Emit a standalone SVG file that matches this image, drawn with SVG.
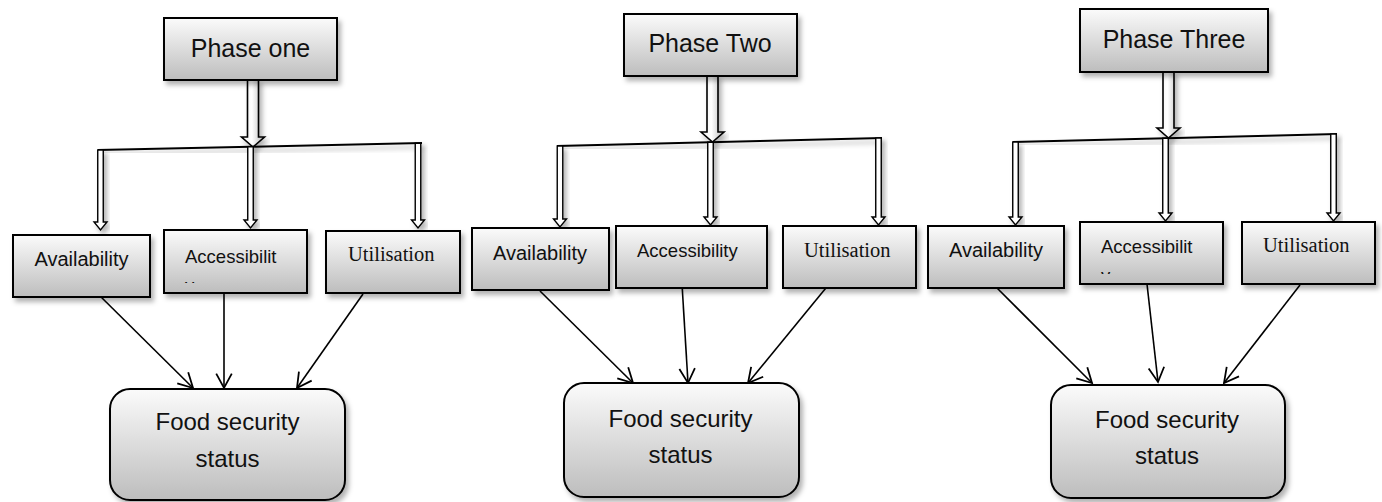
<svg xmlns="http://www.w3.org/2000/svg" width="1382" height="502" viewBox="0 0 1382 502">
  <style>
    .box { stroke: #000; stroke-width: 2; fill: url(#boxGrad); filter: url(#shadow); }
    .fat { stroke: #000; stroke-width: 1.6; fill: url(#fatGrad); filter: url(#shadow); }
    .thin { stroke: #000; stroke-width: 1.4; fill: #fff; filter: url(#shadow); }
    .bar { stroke: #000; stroke-width: 2; fill: none; filter: url(#shadow); }
    .link { stroke: #000; stroke-width: 1.6; fill: none; marker-end: url(#open); }
    .sans { font-family: "Liberation Sans", Arial, sans-serif; fill: #111; }
    .serif { font-family: "Liberation Serif", "Times New Roman", serif; fill: #111; }
    .phase { font-size: 25px; text-anchor: middle; }
    .food { font-size: 24px; text-anchor: middle; }
    .avail { font-size: 20px; text-anchor: middle; }
    .access { font-size: 18.5px; }
    .util { font-size: 20.5px; }
  </style>
  <defs>
    <linearGradient id="boxGrad" x1="0" y1="0" x2="0" y2="1">
      <stop offset="0" stop-color="#fbfbfb"/>
      <stop offset="1" stop-color="#bdbdbd"/>
    </linearGradient>
    <linearGradient id="fatGrad" x1="0" y1="0" x2="1" y2="0">
      <stop offset="0" stop-color="#ededed"/>
      <stop offset="0.45" stop-color="#ffffff"/>
      <stop offset="1" stop-color="#b5b5b5"/>
    </linearGradient>
    <filter id="shadow" x="-20%" y="-20%" width="140%" height="150%">
      <feDropShadow dx="3" dy="4" stdDeviation="2.5" flood-color="#000" flood-opacity="0.3"/>
    </filter>
    <marker id="open" markerUnits="userSpaceOnUse" markerWidth="20" markerHeight="20" viewBox="-14 -9 16 18" refX="0" refY="0" orient="auto">
      <path d="M-13,-7 L0,0 L-13,7" fill="none" stroke="#000" stroke-width="1.6"/>
    </marker>
    <clipPath id="clipAcc1"><rect x="166" y="232" width="140" height="51"/></clipPath>
    <clipPath id="clipAcc3"><rect x="1082" y="224" width="140" height="50"/></clipPath>
  </defs>

  <!-- connectors: hollow branch arrows, bars and plain links -->
  <g id="connectors">
    <!-- phase one -->
    <path class="fat" d="M247.5,80 L247.5,137 L241.5,137 L253,147 L264.5,137 L258.5,137 L258.5,80 Z"/>
    <line class="bar" x1="98" y1="150" x2="422" y2="143"/>
    <path class="thin" d="M97.75,150 L97.75,222 L94,222 L100.5,230 L107,222 L103.25,222 L103.25,150 Z"/>
    <path class="thin" d="M247.75,146.7 L247.75,220 L244,220 L250.5,228 L257,220 L253.25,220 L253.25,146.7 Z"/>
    <path class="thin" d="M415.25,143.2 L415.25,220 L411.5,220 L418,228 L424.5,220 L420.75,220 L420.75,143.2 Z"/>
    <line class="link" x1="97" y1="293" x2="193" y2="388"/>
    <line class="link" x1="224" y1="293" x2="224" y2="388"/>
    <line class="link" x1="363" y1="294" x2="297" y2="388"/>

    <!-- phase two -->
    <path class="fat" d="M707,76 L707,132 L701,132 L712.5,142 L724,132 L718,132 L718,76 Z"/>
    <line class="bar" x1="557" y1="146" x2="882" y2="138"/>
    <path class="thin" d="M557.25,146 L557.25,219 L553.5,219 L560,227 L566.5,219 L562.75,219 L562.75,146 Z"/>
    <path class="thin" d="M707.75,142.3 L707.75,217 L704,217 L710.5,225 L717,217 L713.25,217 L713.25,142.3 Z"/>
    <path class="thin" d="M875.75,138.1 L875.75,217 L872,217 L878.5,225 L885,217 L881.25,217 L881.25,138.1 Z"/>
    <line class="link" x1="540" y1="291" x2="633" y2="383"/>
    <line class="link" x1="682" y1="284" x2="688" y2="383"/>
    <line class="link" x1="830" y1="283" x2="748" y2="383"/>

    <!-- phase three -->
    <path class="fat" d="M1163,72 L1163,128 L1157,128 L1168.5,138 L1180,128 L1174,128 L1174,72 Z"/>
    <line class="bar" x1="1013" y1="142" x2="1337" y2="134"/>
    <path class="thin" d="M1012.75,142 L1012.75,217 L1009,217 L1015.5,225 L1022,217 L1018.25,217 L1018.25,142 Z"/>
    <path class="thin" d="M1162.75,138.3 L1162.75,213 L1159,213 L1165.5,221 L1172,213 L1168.25,213 L1168.25,138.3 Z"/>
    <path class="thin" d="M1330.75,134.1 L1330.75,213 L1327,213 L1333.5,221 L1340,213 L1336.25,213 L1336.25,134.1 Z"/>
    <line class="link" x1="997" y1="288" x2="1092" y2="383"/>
    <line class="link" x1="1147" y1="284" x2="1158" y2="382"/>
    <line class="link" x1="1300" y1="285" x2="1224" y2="383"/>
  </g>

  <!-- phase one column -->
  <g id="phase-one">
    <rect class="box" x="164" y="18" width="173" height="62"/>
    <text class="sans phase" x="250.5" y="57">Phase one</text>
  </g>
  <g id="availability-1">
    <rect class="box" x="13" y="235" width="137" height="62"/>
    <text class="sans avail" x="81.5" y="266">Availability</text>
  </g>
  <g id="accessibility-1">
    <rect class="box" x="164" y="230" width="143" height="63"/>
    <text class="sans access" x="185" y="263">Accessibilit</text>
    <text class="sans access" x="185" y="292" clip-path="url(#clipAcc1)">y</text>
  </g>
  <g id="utilisation-1">
    <rect class="box" x="326" y="231" width="134" height="62"/>
    <text class="serif util" x="348" y="261">Utilisation</text>
  </g>
  <g id="food-1">
    <rect class="box" x="110" y="389" width="235" height="111" rx="20"/>
    <text class="sans food" x="227.5" y="430">Food security</text>
    <text class="sans food" x="227.5" y="467">status</text>
  </g>

  <!-- phase two column -->
  <g id="phase-two">
    <rect class="box" x="624" y="14" width="173" height="62"/>
    <text class="sans phase" x="710" y="52">Phase Two</text>
  </g>
  <g id="availability-2">
    <rect class="box" x="472" y="228" width="137" height="62"/>
    <text class="sans avail" x="540" y="260">Availability</text>
  </g>
  <g id="accessibility-2">
    <rect class="box" x="616" y="226" width="151" height="62"/>
    <text class="sans access" x="637" y="257">Accessibility</text>
  </g>
  <g id="utilisation-2">
    <rect class="box" x="783" y="226" width="133" height="62"/>
    <text class="serif util" x="804" y="257">Utilisation</text>
  </g>
  <g id="food-2">
    <rect class="box" x="564" y="383" width="235" height="114" rx="20"/>
    <text class="sans food" x="680.5" y="427">Food security</text>
    <text class="sans food" x="680.5" y="463">status</text>
  </g>

  <!-- phase three column -->
  <g id="phase-three">
    <rect class="box" x="1080" y="9" width="188" height="63"/>
    <text class="sans phase" x="1174" y="48">Phase Three</text>
  </g>
  <g id="availability-3">
    <rect class="box" x="928" y="226" width="136" height="62"/>
    <text class="sans avail" x="996" y="257">Availability</text>
  </g>
  <g id="accessibility-3">
    <rect class="box" x="1080" y="222" width="143" height="62"/>
    <text class="sans access" x="1101" y="253">Accessibilit</text>
    <text class="sans access" x="1101" y="282" clip-path="url(#clipAcc3)">y</text>
  </g>
  <g id="utilisation-3">
    <rect class="box" x="1242" y="222" width="133" height="62"/>
    <text class="serif util" x="1263" y="252">Utilisation</text>
  </g>
  <g id="food-3">
    <rect class="box" x="1051" y="385" width="234" height="113" rx="20"/>
    <text class="sans food" x="1167" y="428">Food security</text>
    <text class="sans food" x="1167" y="464">status</text>
  </g>
</svg>
